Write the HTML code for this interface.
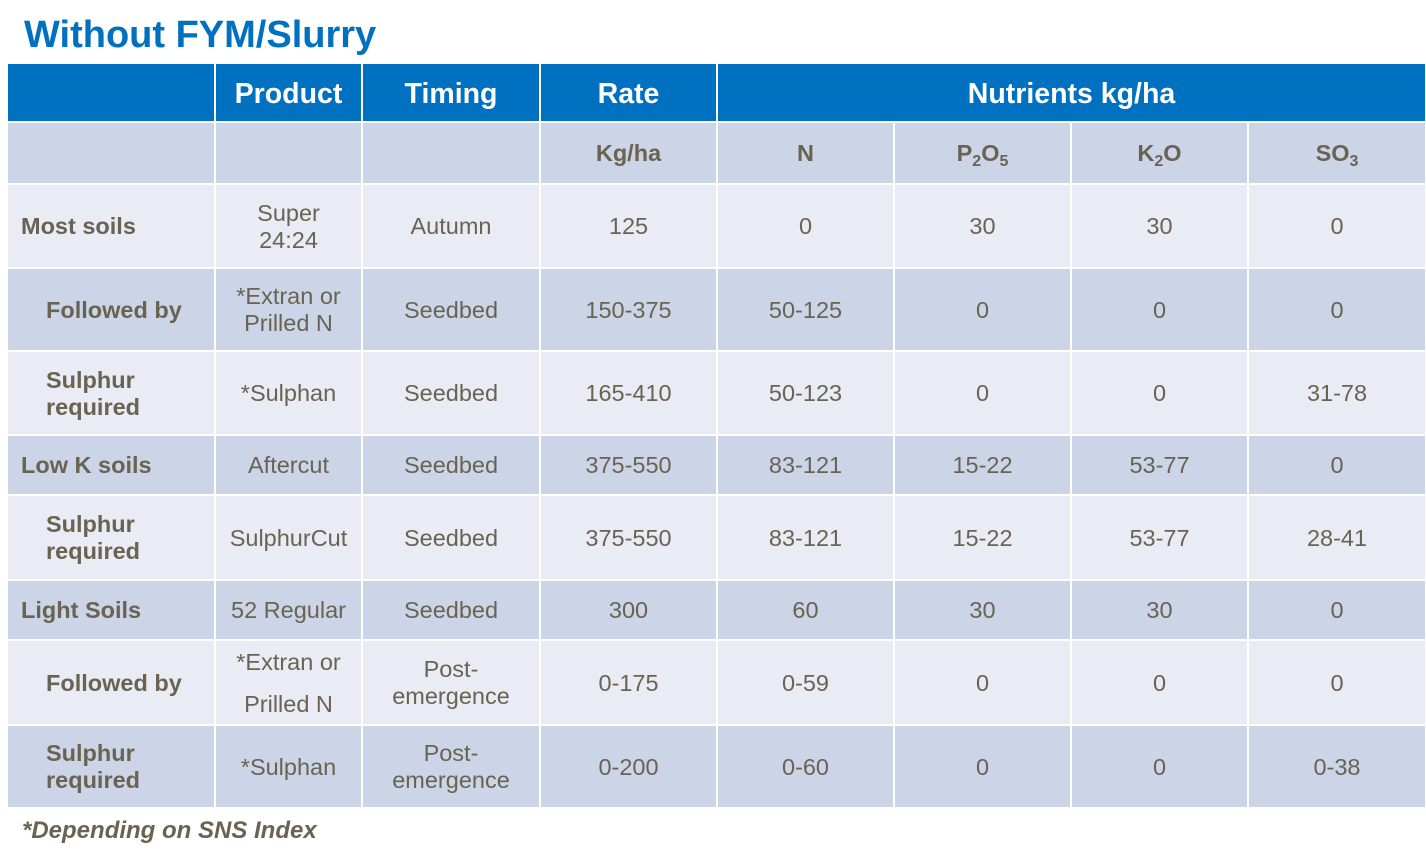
<!DOCTYPE html>
<html><head><meta charset="utf-8"><style>
body{margin:0;width:1426px;height:860px;background:#fff;position:relative;overflow:hidden;font-family:"Liberation Sans",Arial,sans-serif;}
.t{position:absolute;left:24px;top:14px;font-size:38px;font-weight:bold;color:#0070c0;}
.g{position:absolute;left:8px;top:64px;display:grid;gap:2px;grid-template-columns:206px 145px 176px 175px 175px 175px 175px 176px;grid-template-rows:57px 60px 82px 81px 82px 58px 83px 58px 83px 81px;}
.g div{display:flex;align-items:center;justify-content:center;text-align:center;font-size:23.5px;color:#6b6352;line-height:27px;padding-top:1px;box-sizing:border-box;}
.h{background:#0070c0;color:#fff!important;font-weight:bold;font-size:28.5px!important;padding-top:4px!important;}
.s{background:#cbd5e7;font-weight:bold;}
.l{background:#e9ecf4;}
.d{background:#cbd5e7;}
.g div.r{justify-content:flex-start;text-align:left;font-weight:bold;padding-left:13px;}
.g div.r2{justify-content:flex-start;text-align:left;font-weight:bold;padding-left:38px;}
sub{font-size:16px;vertical-align:-5px;line-height:0}
.f{position:absolute;left:22px;top:817px;font-size:24px;font-weight:bold;font-style:italic;color:#6b6352;}
</style></head><body>
<div class="t">Without FYM/Slurry</div>
<div class="g">
<div class="h"></div><div class="h">Product</div><div class="h">Timing</div><div class="h">Rate</div><div class="h" style="grid-column:span 4">Nutrients kg/ha</div>
<div class="s"></div><div class="s"></div><div class="s"></div><div class="s">Kg/ha</div><div class="s">N</div><div class="s"><span>P<sub>2</sub>O<sub>5</sub></span></div><div class="s"><span>K<sub>2</sub>O</span></div><div class="s"><span>SO<sub>3</sub></span></div>
<div class="l r">Most soils</div><div class="l">Super<br>24:24</div><div class="l">Autumn</div><div class="l">125</div><div class="l">0</div><div class="l">30</div><div class="l">30</div><div class="l">0</div>
<div class="d r2">Followed by</div><div class="d">*Extran or<br>Prilled N</div><div class="d">Seedbed</div><div class="d">150-375</div><div class="d">50-125</div><div class="d">0</div><div class="d">0</div><div class="d">0</div>
<div class="l r2">Sulphur<br>required</div><div class="l">*Sulphan</div><div class="l">Seedbed</div><div class="l">165-410</div><div class="l">50-123</div><div class="l">0</div><div class="l">0</div><div class="l">31-78</div>
<div class="d r">Low K soils</div><div class="d">Aftercut</div><div class="d">Seedbed</div><div class="d">375-550</div><div class="d">83-121</div><div class="d">15-22</div><div class="d">53-77</div><div class="d">0</div>
<div class="l r2">Sulphur<br>required</div><div class="l">SulphurCut</div><div class="l">Seedbed</div><div class="l">375-550</div><div class="l">83-121</div><div class="l">15-22</div><div class="l">53-77</div><div class="l">28-41</div>
<div class="d r">Light Soils</div><div class="d">52 Regular</div><div class="d">Seedbed</div><div class="d">300</div><div class="d">60</div><div class="d">30</div><div class="d">30</div><div class="d">0</div>
<div class="l r2">Followed by</div><div class="l" style="line-height:42px">*Extran or<br>Prilled N</div><div class="l">Post-<br>emergence</div><div class="l">0-175</div><div class="l">0-59</div><div class="l">0</div><div class="l">0</div><div class="l">0</div>
<div class="d r2">Sulphur<br>required</div><div class="d">*Sulphan</div><div class="d">Post-<br>emergence</div><div class="d">0-200</div><div class="d">0-60</div><div class="d">0</div><div class="d">0</div><div class="d">0-38</div>
</div>
<div class="f">*Depending on SNS Index</div>
</body></html>
